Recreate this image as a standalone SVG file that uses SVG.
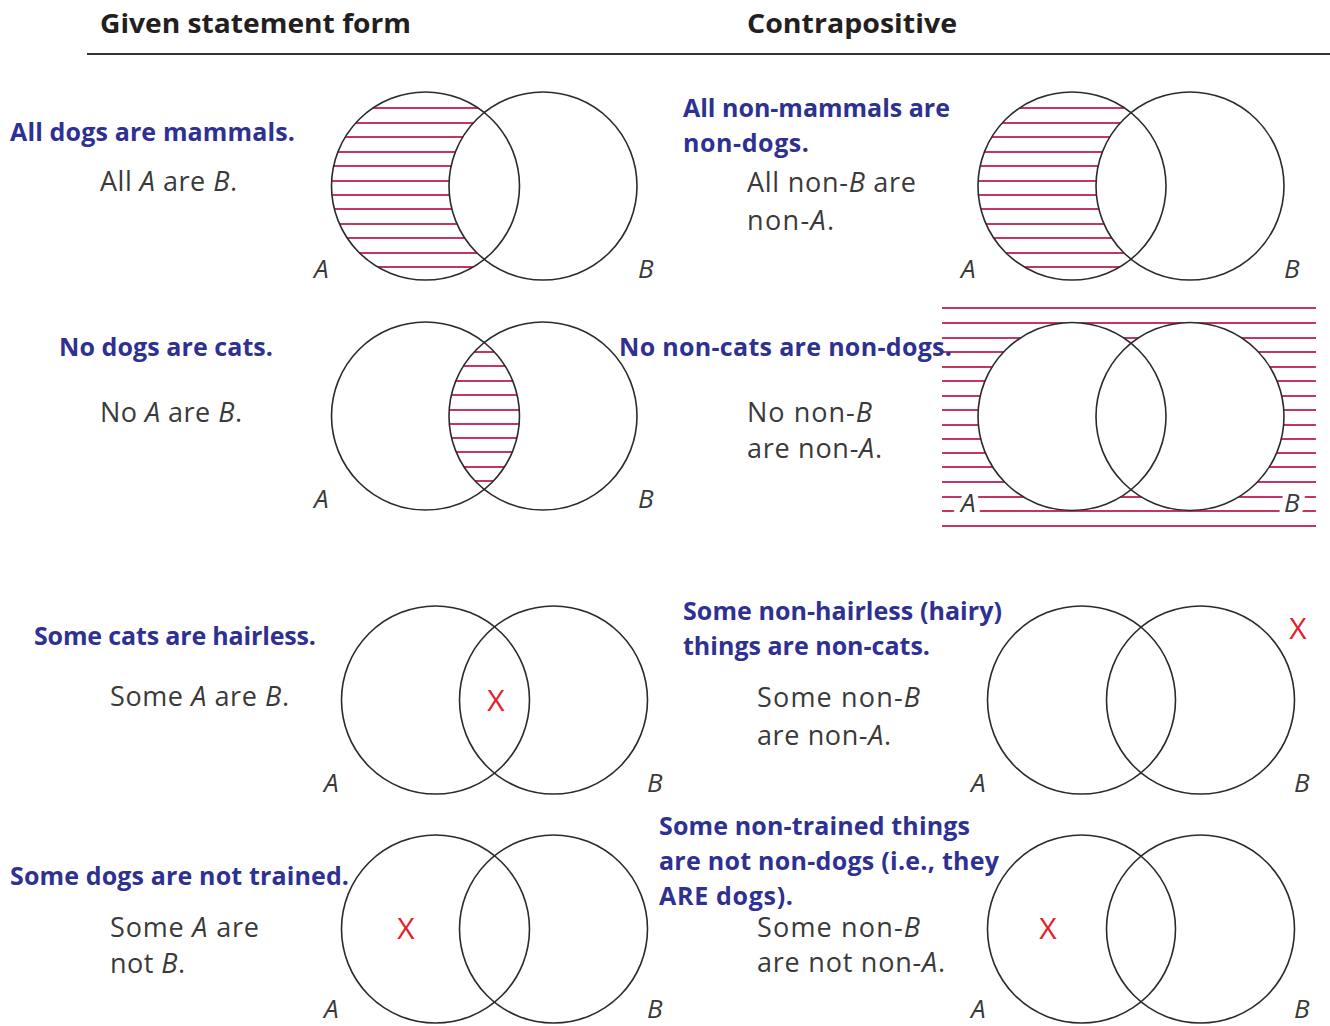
<svg xmlns="http://www.w3.org/2000/svg" width="1330" height="1026" viewBox="0 0 1330 1026">
<style>
.hdr{font-family:"Open Sans","Noto Sans",sans-serif;font-weight:700;font-size:27px;fill:#231f20}
.blue{font-family:"Open Sans","Noto Sans",sans-serif;font-weight:700;font-size:25px;fill:#2e3192}
.gray{font-family:"Open Sans","Noto Sans",sans-serif;font-size:27px;fill:#3a3a3a}
.it{font-style:italic}
.lbl{font-family:"Open Sans","Noto Sans",sans-serif;font-style:italic;font-size:26px;fill:#3a3a3a}
.halo{stroke:#fff;stroke-width:11px;paint-order:stroke;stroke-linejoin:round}
.circ{fill:none;stroke:#2b2b2b;stroke-width:1.6}
.wcirc{fill:#fff;stroke:none}
.hatch line{stroke:#c4355f;stroke-width:2}
.xm{font-family:"Open Sans","Noto Sans",sans-serif;font-size:30px;fill:#e3212b;text-anchor:middle}
</style>
<defs>
<clipPath id="c1A"><circle cx="425.5" cy="186" r="94"/></clipPath>
<clipPath id="c1RA"><circle cx="1072" cy="186" r="94"/></clipPath>
<clipPath id="c2A"><circle cx="425.5" cy="416" r="94"/></clipPath>
<clipPath id="c2B"><circle cx="543" cy="416" r="94"/></clipPath>
</defs>
<rect width="1330" height="1026" fill="#fff"/>

<g id="header">
<text class="hdr" x="100" y="33" textLength="311" lengthAdjust="spacingAndGlyphs">Given statement form</text>
<text class="hdr" x="747" y="33" textLength="210" lengthAdjust="spacingAndGlyphs">Contrapositive</text>
<line x1="87" y1="54" x2="1330" y2="54" stroke="#333" stroke-width="2"/>
</g>

<!-- Row 1 left -->
<g id="venn1-given">
<g class="hatch" clip-path="url(#c1A)">
<line x1="320" y1="108" x2="530" y2="108"/><line x1="320" y1="123" x2="530" y2="123"/><line x1="320" y1="137" x2="530" y2="137"/><line x1="320" y1="152" x2="530" y2="152"/><line x1="320" y1="166" x2="530" y2="166"/><line x1="320" y1="181" x2="530" y2="181"/><line x1="320" y1="195" x2="530" y2="195"/><line x1="320" y1="209" x2="530" y2="209"/><line x1="320" y1="224" x2="530" y2="224"/><line x1="320" y1="238" x2="530" y2="238"/><line x1="320" y1="253" x2="530" y2="253"/><line x1="320" y1="267" x2="530" y2="267"/>
</g>
<circle class="wcirc" cx="543" cy="186" r="94"/>
<circle class="circ" cx="425.5" cy="186" r="94"/>
<circle class="circ" cx="543" cy="186" r="94"/>
<text class="lbl" x="314" y="278">A</text>
<text class="lbl" x="638" y="278">B</text>
</g>

<!-- Row 1 right -->
<g id="venn1-contra">
<g class="hatch" clip-path="url(#c1RA)">
<line x1="970" y1="108" x2="1170" y2="108"/><line x1="970" y1="123" x2="1170" y2="123"/><line x1="970" y1="137" x2="1170" y2="137"/><line x1="970" y1="152" x2="1170" y2="152"/><line x1="970" y1="166" x2="1170" y2="166"/><line x1="970" y1="181" x2="1170" y2="181"/><line x1="970" y1="195" x2="1170" y2="195"/><line x1="970" y1="209" x2="1170" y2="209"/><line x1="970" y1="224" x2="1170" y2="224"/><line x1="970" y1="238" x2="1170" y2="238"/><line x1="970" y1="253" x2="1170" y2="253"/><line x1="970" y1="267" x2="1170" y2="267"/>
</g>
<circle class="wcirc" cx="1190" cy="186" r="94"/>
<circle class="circ" cx="1072" cy="186" r="94"/>
<circle class="circ" cx="1190" cy="186" r="94"/>
<text class="lbl" x="961" y="278">A</text>
<text class="lbl" x="1284" y="278">B</text>
</g>

<!-- Row 2 left -->
<g id="venn2-given">
<g clip-path="url(#c2A)"><g class="hatch" clip-path="url(#c2B)">
<line x1="440" y1="352" x2="530" y2="352"/><line x1="440" y1="366" x2="530" y2="366"/><line x1="440" y1="381" x2="530" y2="381"/><line x1="440" y1="395" x2="530" y2="395"/><line x1="440" y1="410" x2="530" y2="410"/><line x1="440" y1="424" x2="530" y2="424"/><line x1="440" y1="438" x2="530" y2="438"/><line x1="440" y1="452" x2="530" y2="452"/><line x1="440" y1="467" x2="530" y2="467"/><line x1="440" y1="481" x2="530" y2="481"/>
</g></g>
<circle class="circ" cx="425.5" cy="416" r="94"/>
<circle class="circ" cx="543" cy="416" r="94"/>
<text class="lbl" x="314" y="508">A</text>
<text class="lbl" x="638" y="508">B</text>
</g>

<!-- Row 2 right -->
<g id="venn2-contra">
<g class="hatch">
<line x1="942" y1="308" x2="1316" y2="308"/><line x1="942" y1="323" x2="1316" y2="323"/><line x1="942" y1="338" x2="1316" y2="338"/><line x1="942" y1="352" x2="1316" y2="352"/><line x1="942" y1="367" x2="1316" y2="367"/><line x1="942" y1="381" x2="1316" y2="381"/><line x1="942" y1="396" x2="1316" y2="396"/><line x1="942" y1="410" x2="1316" y2="410"/><line x1="942" y1="425" x2="1316" y2="425"/><line x1="942" y1="439" x2="1316" y2="439"/><line x1="942" y1="453" x2="1316" y2="453"/><line x1="942" y1="467" x2="1316" y2="467"/><line x1="942" y1="482" x2="1316" y2="482"/><line x1="942" y1="497" x2="1316" y2="497"/><line x1="942" y1="511" x2="1316" y2="511"/><line x1="942" y1="526" x2="1316" y2="526"/>
</g>
<circle class="wcirc" cx="1072" cy="416.5" r="94"/>
<circle class="wcirc" cx="1190" cy="416.5" r="94"/>
<circle class="circ" cx="1072" cy="416.5" r="94"/>
<circle class="circ" cx="1190" cy="416.5" r="94"/>
<text class="lbl halo" x="961" y="512">A</text>
<text class="lbl halo" x="1284" y="512">B</text>
</g>

<!-- Row 3 left -->
<g id="venn3-given">
<circle class="circ" cx="435.5" cy="700" r="94"/>
<circle class="circ" cx="553.5" cy="700" r="94"/>
<text class="xm" x="496" y="711">X</text>
<text class="lbl" x="324" y="792">A</text>
<text class="lbl" x="647" y="792">B</text>
</g>

<!-- Row 3 right -->
<g id="venn3-contra">
<circle class="circ" cx="1081.5" cy="700" r="94"/>
<circle class="circ" cx="1200.5" cy="700" r="94"/>
<text class="xm" x="1298" y="639">X</text>
<text class="lbl" x="971" y="792">A</text>
<text class="lbl" x="1294" y="792">B</text>
</g>

<!-- Row 4 left -->
<g id="venn4-given">
<circle class="circ" cx="435.5" cy="929" r="94"/>
<circle class="circ" cx="553.5" cy="929" r="94"/>
<text class="xm" x="406" y="939">X</text>
<text class="lbl" x="324" y="1018">A</text>
<text class="lbl" x="647" y="1018">B</text>
</g>

<!-- Row 4 right -->
<g id="venn4-contra">
<circle class="circ" cx="1081.5" cy="929" r="94"/>
<circle class="circ" cx="1200.5" cy="929" r="94"/>
<text class="xm" x="1048" y="939">X</text>
<text class="lbl" x="971" y="1018">A</text>
<text class="lbl" x="1294" y="1018">B</text>
</g>

<!-- Text labels -->
<g id="text1-given">
<text class="blue" x="10" y="141" textLength="285">All dogs are mammals.</text>
<text class="gray" x="100" y="191" textLength="137">All <tspan class="it">A</tspan> are <tspan class="it">B</tspan>.</text>
</g>
<g id="text1-contra">
<text class="blue" x="683" y="117" textLength="267">All non-mammals are</text>
<text class="blue" x="683" y="152" textLength="126">non-dogs.</text>
<text class="gray" x="747" y="192" textLength="169">All non-<tspan class="it">B</tspan> are</text>
<text class="gray" x="747" y="230" textLength="87">non-<tspan class="it">A</tspan>.</text>
</g>
<g id="text2-given">
<text class="blue" x="59" y="356" textLength="214">No dogs are cats.</text>
<text class="gray" x="100" y="422" textLength="142">No <tspan class="it">A</tspan> are <tspan class="it">B</tspan>.</text>
</g>
<g id="text2-contra">
<text class="blue" x="619" y="356" textLength="333">No non-cats are non-dogs.</text>
<text class="gray" x="747" y="422" textLength="125">No non-<tspan class="it">B</tspan></text>
<text class="gray" x="747" y="458" textLength="135">are non-<tspan class="it">A</tspan>.</text>
</g>
<g id="text3-given">
<text class="blue" x="34" y="645" textLength="282">Some cats are hairless.</text>
<text class="gray" x="110" y="706" textLength="179">Some <tspan class="it">A</tspan> are <tspan class="it">B</tspan>.</text>
</g>
<g id="text3-contra">
<text class="blue" x="683" y="620" textLength="319">Some non-hairless (hairy)</text>
<text class="blue" x="683" y="655" textLength="247">things are non-cats.</text>
<text class="gray" x="757" y="707" textLength="163">Some non-<tspan class="it">B</tspan></text>
<text class="gray" x="757" y="745" textLength="134">are non-<tspan class="it">A</tspan>.</text>
</g>
<g id="text4-given">
<text class="blue" x="10" y="885" textLength="339">Some dogs are not trained.</text>
<text class="gray" x="110" y="937" textLength="149">Some <tspan class="it">A</tspan> are</text>
<text class="gray" x="110" y="973" textLength="75">not <tspan class="it">B</tspan>.</text>
</g>
<g id="text4-contra">
<text class="blue" x="659" y="835" textLength="311">Some non-trained things</text>
<text class="blue" x="659" y="870" textLength="340">are not non-dogs (i.e., they</text>
<text class="blue" x="659" y="905" textLength="134">ARE dogs).</text>
<text class="gray" x="757" y="937" textLength="163">Some non-<tspan class="it">B</tspan></text>
<text class="gray" x="757" y="972" textLength="188">are not non-<tspan class="it">A</tspan>.</text>
</g>
</svg>
